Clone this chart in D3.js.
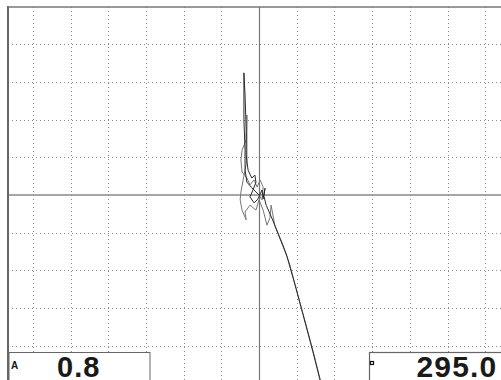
<!DOCTYPE html>
<html>
<head>
<meta charset="utf-8">
<script src="https://cdn.jsdelivr.net/npm/d3@7"></script>
<style>
  html, body { margin: 0; padding: 0; background: #fff; }
  svg { display: block; }
</style>
</head>
<body>
<div id="chart"></div>
<script>
// signal traces, in screen divisions (x right, y up), centre = 0,0
const traceA = [
  [0, 0], [-0.08, 0.08], [-0.19, 0.19], [-0.32, 0.34], [-0.37, 0.66], [-0.37, 1.19],
  [-0.40, 1.99], [-0.40, 2.79], [-0.40, 3.24], [-0.37, 2.65], [-0.34, 1.72], [-0.34, 1.06],
  [-0.29, 0.66], [-0.19, 0.45], [-0.11, 0.53], [-0.08, 0.34], [-0.16, 0.13], [-0.24, -0.05],
  [-0.13, -0.21], [-0.03, -0.11], [0.08, 0.13], [0.11, -0.10], [0.16, 0.18], [0.13, -0.03],
  [0.19, -0.27], [0.34, -0.61], [0.53, -1.09], [0.74, -1.62], [0.98, -2.47], [1.22, -3.37],
  [1.43, -4.16], [1.62, -4.91], [1.70, -5.23]
];
const traceB = [
  [0, 0], [0.08, -0.13], [0.11, 0.21], [0.03, 0.40], [-0.05, 0.21], [-0.13, 0.40],
  [-0.24, 0.27], [-0.32, 0.45], [-0.45, 0.61], [-0.48, 0.93], [-0.45, 1.19], [-0.34, 1.46],
  [-0.32, 2.12], [-0.32, 1.72], [-0.32, 0.93], [-0.42, 0.40], [-0.48, 0.08], [-0.50, -0.13],
  [-0.45, -0.40], [-0.34, -0.66], [-0.37, -0.45], [-0.24, -0.27], [-0.08, -0.40], [0, -0.13],
  [0.11, -0.40], [0.21, -0.80], [0.29, -0.61], [0.32, -0.27], [0.42, -0.80], [0.64, -1.33],
  [0.82, -1.86], [1.03, -2.65], [1.25, -3.45], [1.46, -4.24], [1.64, -4.96]
];
const gridX = d3.range(-6, 7);   // vertical division lines
const gridY = d3.range(-4, 5);   // horizontal division lines
const readoutA = "0.8";
const readoutB = "295.0";

const W = 501, H = 380;
const padL = 8, padT = 7;

const svg = d3.select("#chart").append("svg")
    .attr("width", W)
    .attr("height", H);

const x = d3.scaleLinear().domain([-6, 6]).range([32.8, 485.2]);
const y = d3.scaleLinear().domain([-5, 5]).range([383.5, 6.5]);

svg.append("defs").append("clipPath").attr("id", "plot")
    .append("rect").attr("x", padL).attr("y", padT).attr("width", W - padL).attr("height", H - padT);

const g = svg.append("g").attr("clip-path", "url(#plot)");

// dotted grid
g.selectAll(".vx").data(gridX.filter(d => d !== 0)).join("line")
    .attr("x1", d => Math.round(x(d)) + 0.5).attr("x2", d => Math.round(x(d)) + 0.5)
    .attr("y1", padT).attr("y2", H)
    .attr("stroke", "#8c8c8c").attr("stroke-dasharray", "1,3");
g.selectAll(".hy").data(gridY.filter(d => d !== 0)).join("line")
    .attr("y1", d => Math.round(y(d)) + 0.5).attr("y2", d => Math.round(y(d)) + 0.5)
    .attr("x1", padL).attr("x2", W)
    .attr("stroke", "#8c8c8c").attr("stroke-dasharray", "1,3");

// centre cross
g.append("line")
    .attr("x1", Math.round(x(0)) + 0.5).attr("x2", Math.round(x(0)) + 0.5)
    .attr("y1", padT).attr("y2", H)
    .attr("stroke", "#777").attr("stroke-width", 1.2);
g.append("line")
    .attr("y1", y(0)).attr("y2", y(0))
    .attr("x1", padL).attr("x2", W)
    .attr("stroke", "#888").attr("stroke-width", 1.5);

// traces
const line = d3.line().x(d => x(d[0])).y(d => y(d[1]));
g.append("path").datum(traceB)
    .attr("d", line).attr("fill", "none")
    .attr("stroke", "#777").attr("stroke-width", 1);
g.append("path").datum(traceA)
    .attr("d", line).attr("fill", "none")
    .attr("stroke", "#2a2a2a").attr("stroke-width", 1);

// frame
svg.append("line").attr("x1", padL).attr("x2", padL).attr("y1", padT - 1).attr("y2", H)
    .attr("stroke", "#666").attr("stroke-width", 2);
svg.append("line").attr("x1", padL).attr("x2", W).attr("y1", padT).attr("y2", padT)
    .attr("stroke", "#777").attr("stroke-width", 1.5);

// readout boxes
svg.append("rect").attr("x", padL + 1).attr("y", 352.5).attr("width", 141).attr("height", 40)
    .attr("fill", "#fff").attr("stroke", "#666").attr("stroke-width", 1);
svg.append("rect").attr("x", 369.5).attr("y", 352.5).attr("width", 140).attr("height", 40)
    .attr("fill", "#fff").attr("stroke", "#666").attr("stroke-width", 1.2);

const font = "Liberation Sans, Arial, sans-serif";
svg.append("text").attr("x", 11).attr("y", 368.5)
    .style("font-family", font)
    .style("font-weight", "bold").style("font-size", "10px")
    .attr("fill", "#111").text("A");
svg.append("text").attr("x", 57).attr("y", 377)
    .style("font-family", font)
    .style("font-weight", "bold").style("font-size", "29px")
    .style("letter-spacing", "1px")
    .attr("fill", "#1a1a1a").text(readoutA);

svg.append("rect").attr("x", 370.5).attr("y", 361.5).attr("width", 3).attr("height", 3)
    .attr("fill", "none").attr("stroke", "#111").attr("stroke-width", 1.2);
svg.append("text").attr("x", 497.5).attr("y", 377)
    .attr("text-anchor", "end")
    .style("font-family", font)
    .style("font-weight", "bold").style("font-size", "30px")
    .style("letter-spacing", "1.2px")
    .attr("fill", "#1a1a1a").text(readoutB);
</script>
</body>
</html>
